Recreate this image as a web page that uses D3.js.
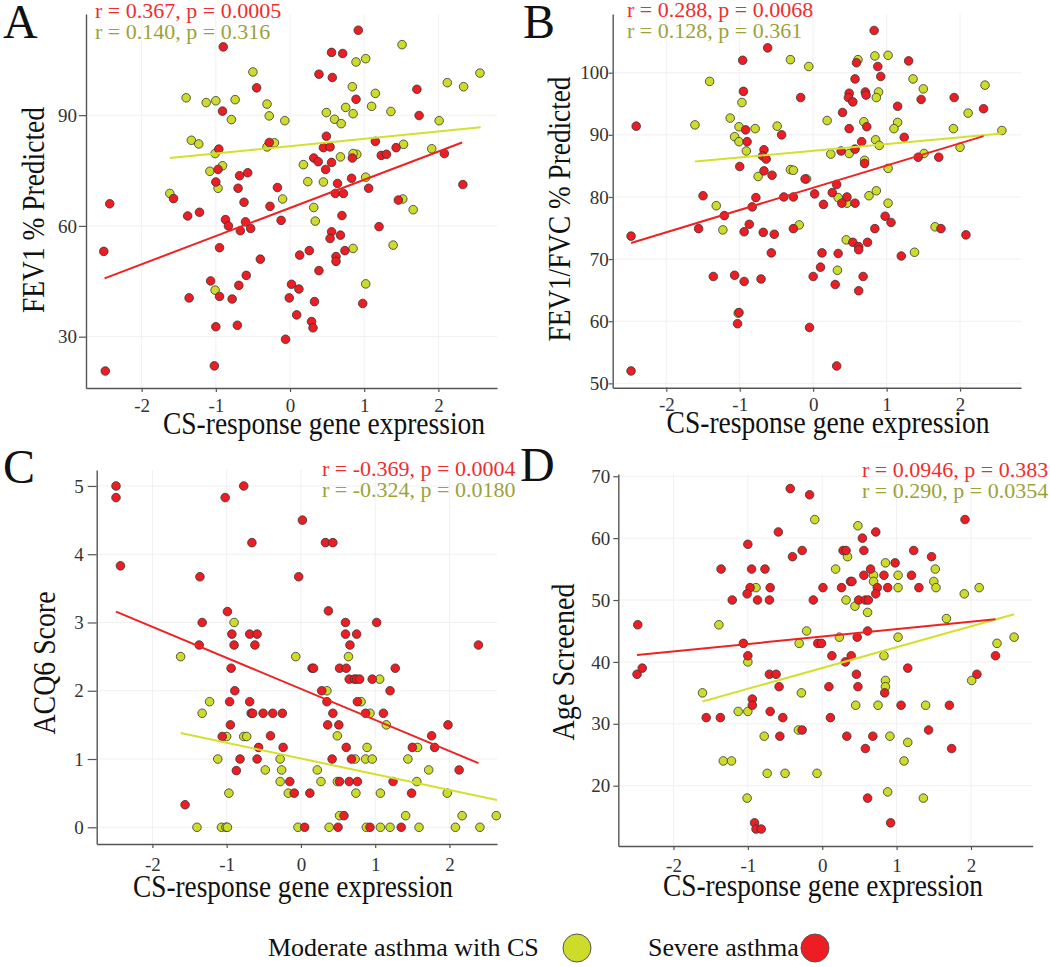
<!DOCTYPE html>
<html>
<head>
<meta charset="utf-8">
<script src="https://cdn.jsdelivr.net/npm/d3@7"></script>
<style>
  body { margin: 0; background: #fff; }
  svg { display: block; }
</style>
</head>
<body>
<script>
// ---- data: [CS-response gene expression, value] ----
var xTicks = [-2, -1, 0, 1, 2];

// A: FEV1 % Predicted
var aSevere = [[-0.90,108.5],[-0.45,97.4],[-0.91,91.1],[-0.96,80.8],[-0.97,75.3],[-0.68,73.6],[-0.57,74.4],[-1.00,71.9],[-0.70,70.2],[-0.62,66.4],[-1.57,67.4],[-2.43,66.0],[-1.38,62.7],[-1.22,63.7],[-0.87,61.7],[-0.83,60.0],[-0.60,61.1],[-0.53,59.3],[-0.67,58.7],[-2.51,53.1],[-0.95,54.1],[-0.40,51.0],[-1.07,45.1],[-0.59,46.6],[-0.69,43.9],[-1.36,40.5],[-0.95,40.9],[-0.78,40.2],[-1.00,32.7],[-0.71,33.1],[-2.49,20.7],[-1.02,22.1],
  [0.92,113.0],[0.56,107.0],[0.71,106.7],[0.39,101.1],[0.57,100.2],[1.71,97.0],[0.89,94.3],[1.74,89.9],[0.49,84.3],[1.15,82.9],[-0.28,82.6],[0.45,81.2],[0.54,81.4],[1.43,81.2],[1.23,79.1],[1.30,79.4],[2.08,79.6],[0.32,78.4],[0.38,77.4],[0.56,77.2],[0.84,78.4],[0.48,75.3],[0.83,72.9],[-0.17,70.4],[0.64,71.5],[1.06,70.2],[0.61,68.8],[0.72,68.8],[2.33,71.2],[-0.27,65.3],[1.46,67.0],[0.70,62.8],[-0.12,61.5],[1.20,59.8],[0.56,58.4],[0.68,57.5],[0.54,56.6],[0.74,53.3],[0.26,53.3],[0.13,52.1],[0.62,51.7],[0.62,50.4],[0.39,47.9],[0.02,44.2],[0.12,42.9],[-0.01,40.5],[0.33,39.5],[0.98,39.0],[0.09,35.9],[0.29,34.1],[0.31,32.4],[-0.06,29.3]];
var aModerate = [[-0.50,101.7],[-1.40,94.7],[-1.13,93.4],[-1.00,93.9],[-0.74,94.2],[-0.79,88.8],[-1.33,83.2],[-1.23,82.2],[-1.01,79.6],[-0.91,76.3],[-1.08,74.8],[-0.97,70.2],[-1.62,68.8],[-1.01,42.6],
  [1.51,109.1],[0.89,104.4],[1.02,105.3],[2.56,101.4],[2.12,98.8],[2.34,97.7],[0.84,97.7],[1.15,95.9],[0.75,92.1],[1.10,92.4],[-0.31,93.0],[-0.28,89.8],[0.49,90.7],[0.60,88.9],[0.85,90.4],[0.69,87.7],[1.36,91.0],[-0.07,88.5],[2.01,88.5],[-0.31,81.4],[-0.21,82.5],[1.53,82.1],[1.91,80.9],[0.90,79.4],[0.85,79.6],[0.68,78.7],[0.18,76.6],[1.02,73.2],[0.24,72.0],[0.45,71.9],[-0.10,67.3],[1.52,67.3],[1.66,64.4],[0.32,65.0],[0.34,61.3],[1.39,54.8],[0.85,53.9],[1.02,44.3]];
var aFitSevere = [[-2.50,45.8],[2.32,82.6]];
var aFitModerate = [[-1.62,78.4],[2.57,86.7]];
var aYTicks = [30, 60, 90];
var aStats = ["r = 0.367, p = 0.0005", "r = 0.140, p = 0.316"];

// B: FEV1/FVC % Predicted
var bSevere = [[-0.62,104.0],[-0.96,102.0],[-0.95,97.0],[-2.41,91.4],[-0.92,90.8],[-0.90,88.9],[-0.67,87.6],[-0.69,86.6],[-0.64,86.1],[-1.00,84.9],[-0.67,84.2],[-0.56,83.5],[-0.78,79.9],[-0.83,78.4],[-1.50,80.2],[-1.21,77.0],[-1.56,74.9],[-2.48,73.7],[-0.94,74.4],[-0.87,75.6],[-0.68,74.3],[-0.53,74.0],[-0.57,71.0],[-1.07,67.4],[-1.36,67.2],[-0.94,66.4],[-0.71,66.8],[-1.01,61.4],[-1.03,59.6],[-2.48,52.0],
  [0.83,106.8],[1.30,101.9],[0.59,101.6],[0.88,101.0],[0.57,99.0],[0.92,99.4],[-0.17,96.0],[0.49,96.7],[0.48,96.0],[0.54,95.3],[0.71,96.9],[0.72,96.4],[1.47,95.7],[1.92,96.0],[2.32,94.2],[1.15,94.6],[0.40,93.6],[0.49,91.0],[0.73,91.3],[-0.43,90.0],[1.24,89.6],[0.66,88.9],[0.57,87.7],[0.38,87.4],[0.70,85.4],[1.43,86.4],[1.71,86.4],[-0.11,82.9],[0.32,82.0],[0.02,80.5],[0.26,80.7],[-0.40,80.0],[-0.27,80.0],[0.46,80.0],[0.14,78.8],[0.39,79.0],[0.57,79.0],[0.98,76.9],[1.06,75.9],[-0.27,74.9],[0.84,74.9],[1.74,74.9],[2.08,73.9],[0.54,72.7],[0.62,72.0],[0.62,71.5],[0.74,72.7],[0.12,71.0],[0.34,70.9],[1.20,70.5],[0.10,68.7],[0.00,67.2],[0.30,65.9],[0.68,67.2],[0.62,64.9],[-0.05,59.0],[0.32,52.8]];
var bModerate = [[-1.41,98.6],[-0.97,95.2],[-1.61,91.6],[-1.13,92.7],[-1.01,91.3],[-0.79,91.0],[-1.07,89.7],[-1.01,88.9],[-0.91,87.4],[-0.75,83.3],[-1.32,78.6],[-1.23,74.7],[-1.02,61.3],
  [-0.31,102.1],[-0.06,101.0],[0.61,102.1],[0.84,102.7],[1.02,102.8],[1.36,99.0],[1.50,97.4],[0.89,96.9],[0.86,96.0],[-0.49,91.4],[0.19,92.3],[0.69,92.1],[1.15,92.0],[1.10,91.0],[1.91,91.0],[2.11,93.5],[2.34,98.0],[2.57,90.7],[0.85,89.2],[0.90,88.3],[2.00,88.0],[0.24,86.9],[0.49,87.0],[1.51,87.0],[0.70,85.9],[-0.31,84.4],[-0.27,84.3],[-0.09,82.9],[1.02,84.6],[0.86,81.0],[0.76,80.2],[0.34,79.9],[0.46,79.0],[1.02,79.0],[-0.19,75.5],[1.66,75.2],[0.45,73.1],[1.38,71.1],[0.33,68.2]];
var bFitSevere = [[-2.48,72.6],[2.32,89.8]];
var bFitModerate = [[-1.61,85.7],[2.57,90.2]];
var bYTicks = [50, 60, 70, 80, 90, 100];
var bStats = ["r = 0.288, p = 0.0068", "r = 0.128, p = 0.361"];

// C: ACQ6 Score
var cSevere = [[-2.49,5.0],[-2.49,4.83],[-0.77,5.0],[-1.02,4.83],[-0.66,4.17],[-2.43,3.83],[-1.36,3.67],[-0.99,3.16],[-1.33,3.0],[-0.93,2.83],[-0.69,2.83],[-0.59,2.83],[-1.37,2.67],[-0.90,2.67],[-0.62,2.67],[-0.94,2.33],[-0.89,2.0],[-0.96,1.84],[-0.69,1.84],[-0.67,1.67],[-0.65,1.67],[-0.95,1.50],[-1.06,1.33],[-0.57,1.17],[-0.82,1.0],[-0.59,1.0],[-0.87,0.83],[-1.56,0.33],
  [0.02,4.50],[0.33,4.17],[0.43,4.17],[-0.03,3.67],[0.37,3.17],[0.60,3.0],[1.02,3.0],[0.60,2.83],[0.75,2.83],[0.66,2.67],[2.39,2.67],[0.15,2.33],[0.17,2.33],[0.52,2.33],[0.61,2.33],[1.27,2.33],[0.65,2.17],[0.72,2.17],[0.75,2.17],[0.79,2.17],[0.96,2.17],[0.28,2.0],[1.20,2.0],[0.35,1.84],[0.76,1.84],[-0.51,1.67],[-0.38,1.67],[-0.25,1.67],[0.43,1.67],[0.87,1.67],[1.11,1.67],[0.36,1.50],[0.51,1.50],[1.98,1.50],[-0.41,1.34],[1.76,1.34],[-0.24,1.17],[0.61,1.17],[1.50,1.17],[1.80,1.17],[0.42,1.0],[0.68,1.0],[2.13,0.84],[-0.15,0.67],[0.52,0.67],[0.65,0.67],[0.76,0.67],[1.24,0.67],[-0.09,0.50],[0.12,0.50],[1.49,0.50],[0.58,0.17],[0.05,0.0],[0.50,0.0],[0.93,0.0],[1.35,0.0]];
var cModerate = [[-0.90,3.0],[-1.62,2.5],[-1.23,1.84],[-1.33,1.67],[-1.00,1.33],[-0.77,1.33],[-0.73,1.33],[-1.12,1.0],[-0.97,0.50],[-1.40,0.0],[-1.07,0.0],[-1.01,0.0],[-0.99,0.0],
  [-0.07,2.5],[0.64,2.5],[0.35,2.0],[1.06,2.17],[0.81,1.84],[0.93,1.67],[1.15,1.50],[0.49,1.34],[0.89,1.17],[1.57,1.17],[-0.28,1.0],[0.73,1.0],[0.87,1.0],[0.96,1.0],[1.44,1.0],[-0.48,0.84],[-0.26,0.84],[0.22,0.84],[1.72,0.84],[-0.28,0.67],[0.27,0.67],[0.49,0.67],[1.56,0.67],[-0.17,0.50],[0.74,0.50],[1.07,0.50],[1.97,0.50],[0.52,0.17],[1.41,0.17],[2.17,0.17],[2.63,0.17],[-0.04,0.0],[0.38,0.0],[0.88,0.0],[1.07,0.0],[1.20,0.0],[1.59,0.0],[2.08,0.0],[2.41,0.0]];
var cFitSevere = [[-2.49,3.16],[2.39,0.94]];
var cFitModerate = [[-1.62,1.38],[2.64,0.40]];
var cYTicks = [0, 1, 2, 3, 4, 5];
var cStats = ["r = -0.369, p = 0.0004", "r = -0.324, p = 0.0180"];

// D: Age Screened
var dSevere = [[-1.00,59.0],[-1.36,55.0],[-0.95,55.0],[-0.77,55.0],[-0.97,52.0],[-0.70,52.0],[-1.01,51.0],[-1.21,50.0],[-0.87,50.0],[-0.71,50.0],[-2.48,46.0],[-1.06,43.0],[-1.00,41.0],[-0.71,38.0],[-2.49,38.0],[-2.42,39.0],[-0.94,34.0],[-0.94,33.0],[-0.70,32.0],[-1.56,31.0],[-1.37,31.0],[-0.91,14.0],[-0.89,13.0],[-0.82,13.0],
  [-0.43,68.0],[-0.17,67.0],[1.92,63.0],[-0.59,61.0],[0.72,61.0],[0.54,60.0],[-0.27,58.0],[0.28,58.0],[0.32,58.0],[0.56,58.0],[1.23,58.0],[-0.40,57.0],[1.47,57.0],[0.98,56.0],[0.65,55.0],[0.56,54.0],[0.83,54.0],[1.20,54.0],[0.01,52.0],[0.26,52.0],[0.38,53.0],[0.40,53.0],[0.74,52.0],[0.88,52.0],[1.30,52.0],[0.72,51.0],[-0.12,50.0],[0.49,50.0],[0.58,50.0],[0.62,50.0],[0.61,45.0],[0.47,44.0],[-0.06,43.0],[-0.01,43.0],[0.13,41.0],[0.39,41.0],[2.33,41.0],[0.31,40.0],[1.15,39.0],[2.08,38.0],[-0.62,38.0],[0.46,38.0],[-0.58,36.0],[0.09,36.0],[0.48,36.0],[0.84,35.0],[1.06,33.0],[1.71,33.0],[-0.53,31.0],[0.11,31.0],[-0.57,28.0],[-0.27,29.0],[0.33,28.0],[0.68,28.0],[1.43,29.0],[0.58,26.0],[1.74,26.0],[0.61,18.0],[0.92,14.0]];
var dModerate = [[-0.89,52.0],[-1.39,46.0],[-1.00,40.0],[-1.61,35.0],[-1.13,32.0],[-1.00,32.0],[-0.78,28.0],[-1.33,24.0],[-1.22,24.0],[-0.74,22.0],[-1.01,18.0],
  [-0.10,63.0],[0.48,62.0],[0.34,57.0],[0.18,55.0],[0.85,56.0],[1.52,55.0],[0.69,54.0],[0.69,53.0],[1.02,54.0],[1.50,53.0],[1.02,52.0],[1.53,52.0],[2.11,52.0],[1.91,51.0],[0.32,50.0],[0.44,49.0],[0.61,48.0],[1.67,47.0],[-0.21,45.0],[0.23,44.0],[1.02,44.0],[2.58,44.0],[-0.31,43.0],[2.35,43.0],[0.83,41.0],[0.85,37.0],[0.85,36.0],[2.01,37.0],[-0.28,35.0],[0.45,33.0],[0.75,33.0],[1.39,33.0],[-0.32,29.0],[0.91,28.0],[1.15,27.0],[1.10,24.0],[-0.50,22.0],[-0.07,22.0],[0.88,19.0],[1.36,18.0]];
var dFitSevere = [[-2.49,41.1],[2.33,46.9]];
var dFitModerate = [[-1.61,33.6],[2.58,47.7]];
var dYTicks = [20, 30, 40, 50, 60, 70];
var dStats = ["r = 0.0946, p = 0.383", "r = 0.290, p = 0.0354"];

var xTitle = "CS-response gene expression";
var legendLabels = ["Moderate asthma with CS", "Severe asthma"];

// ---- look ----
var FONT = "'Liberation Serif', 'Times New Roman', serif";
var RED = "#ee1d23", YEL = "#cddc2a";
var RED_LINE = "#ef2222", YEL_LINE = "#d3e02c";
var RED_TXT = "#ee2e2e", OLIVE_TXT = "#9ca23a";

// panel placement (pixels)
var panels = [
  {letter: "A", lx: 3, ly: 38, severe: aSevere, moderate: aModerate, fitS: aFitSevere, fitM: aFitModerate,
   yTicks: aYTicks, yTitle: "FEV1 % Predicted", stats: aStats,
   xDom: [-2.75, 2.79], yDom: [16.1, 117.4], left: 86, right: 497, top: 14, bottom: 388,
   tick: 7, yGap: 9, xLab: 24, sx: 95, sy: 18,
   xtX: 324, xtY: 434, xtLen: 322, ytX: 44, ytY: 210, ytLen: 206},
  {letter: "B", lx: 523, ly: 38, severe: bSevere, moderate: bModerate, fitS: bFitSevere, fitM: bFitModerate,
   yTicks: bYTicks, yTitle: "FEV1/FVC % Predicted", stats: bStats,
   xDom: [-2.73, 2.83], yDom: [49.3, 109.45], left: 612.7, right: 1021, top: 14, bottom: 387.7,
   tick: 4, yGap: 4, xLab: 23, sx: 627, sy: 17,
   xtX: 828, xtY: 433, xtLen: 323, ytX: 570, ytY: 209, ytLen: 265},
  {letter: "C", lx: 3, ly: 483, severe: cSevere, moderate: cModerate, fitS: cFitSevere, fitM: cFitModerate,
   yTicks: cYTicks, yTitle: "ACQ6 Score", stats: cStats,
   xDom: [-2.75, 2.64], yDom: [-0.245, 5.234], left: 96.7, right: 497, top: 470, bottom: 844,
   tick: 9, yGap: 13, xLab: 27, sx: 322, sy: 476,
   xtX: 293, xtY: 897, xtLen: 320, ytX: 55, ytY: 663, ytLen: 143},
  {letter: "D", lx: 520, ly: 481, severe: dSevere, moderate: dModerate, fitS: dFitSevere, fitM: dFitModerate,
   yTicks: dYTicks, yTitle: "Age Screened", stats: dStats,
   xDom: [-2.742, 2.83], yDom: [10.26, 70.36], left: 618.3, right: 1032.7, top: 474, bottom: 846,
   tick: 5, yGap: 8, xLab: 26, sx: 862, sy: 477,
   xtX: 823, xtY: 896, xtLen: 320, ytX: 574, ytY: 662, ytLen: 157}
];

var svg = d3.select("body").append("svg")
    .attr("width", 1050)
    .attr("height", 967)
    .style("font-family", FONT);

var line = d3.line();
var plainNum = function(d) { return String(d); };

panels.forEach(function(p) {
  var x = d3.scaleLinear().domain(p.xDom).range([p.left, p.right]);
  var y = d3.scaleLinear().domain(p.yDom).range([p.bottom, p.top]);
  var g = svg.append("g");

  // grid
  g.selectAll(".gx").data(xTicks).enter().append("line")
      .attr("x1", function(d) { return x(d); })
      .attr("x2", function(d) { return x(d); })
      .attr("y1", p.top).attr("y2", p.bottom)
      .style("stroke", "#f0f0f0").style("stroke-width", 1);
  g.selectAll(".gy").data(p.yTicks).enter().append("line")
      .attr("x1", p.left).attr("x2", p.right)
      .attr("y1", function(d) { return y(d); })
      .attr("y2", function(d) { return y(d); })
      .style("stroke", "#f0f0f0").style("stroke-width", 1);

  // axes
  var ax = g.append("g")
      .attr("transform", "translate(0," + p.bottom + ")")
      .call(d3.axisBottom(x).tickValues(xTicks).tickFormat(plainNum).tickSize(4).tickSizeOuter(0));
  ax.selectAll("text").attr("y", p.xLab).attr("dy", null);

  var ay = g.append("g")
      .attr("transform", "translate(" + p.left + ",0)")
      .call(d3.axisLeft(y).tickValues(p.yTicks).tickFormat(plainNum).tickSize(p.tick).tickSizeOuter(0));
  ay.selectAll("text").attr("x", -p.yGap);

  g.selectAll(".domain").style("stroke", "#555").style("stroke-width", 1.4);
  g.selectAll(".tick line").style("stroke", "#555").style("stroke-width", 1.2);
  g.selectAll(".tick text")
      .style("font-family", FONT).style("font-size", "19px").style("fill", "#333");

  // points: moderate first, severe on top
  g.selectAll(".pm").data(p.moderate).enter().append("circle")
      .attr("cx", function(d) { return x(d[0]); })
      .attr("cy", function(d) { return y(d[1]); })
      .attr("r", 4.3)
      .style("fill", YEL).style("stroke", "#333").style("stroke-width", 0.8);
  g.selectAll(".ps").data(p.severe).enter().append("circle")
      .attr("cx", function(d) { return x(d[0]); })
      .attr("cy", function(d) { return y(d[1]); })
      .attr("r", 4.3)
      .style("fill", RED).style("stroke", "#333").style("stroke-width", 0.8);

  // fitted lines
  line.x(function(d) { return x(d[0]); }).y(function(d) { return y(d[1]); });
  g.append("path").datum(p.fitM).attr("d", line)
      .style("fill", "none").style("stroke", YEL_LINE).style("stroke-width", 2);
  g.append("path").datum(p.fitS).attr("d", line)
      .style("fill", "none").style("stroke", RED_LINE).style("stroke-width", 2);

  // correlation text
  g.append("text").attr("x", p.sx).attr("y", p.sy)
      .style("font-size", "22px").style("fill", RED_TXT).text(p.stats[0]);
  g.append("text").attr("x", p.sx).attr("y", p.sy + 21)
      .style("font-size", "22px").style("fill", OLIVE_TXT).text(p.stats[1]);

  // axis titles
  g.append("text")
      .attr("x", p.xtX).attr("y", p.xtY)
      .attr("text-anchor", "middle")
      .attr("textLength", p.xtLen).attr("lengthAdjust", "spacingAndGlyphs")
      .style("font-size", "31px").style("fill", "#111")
      .text(xTitle);
  g.append("text")
      .attr("transform", "translate(" + p.ytX + "," + p.ytY + ") rotate(-90)")
      .attr("text-anchor", "middle")
      .attr("textLength", p.ytLen).attr("lengthAdjust", "spacingAndGlyphs")
      .style("font-size", "31px").style("fill", "#111")
      .text(p.yTitle);

  // panel letter
  g.append("text").attr("x", p.lx).attr("y", p.ly)
      .style("font-size", "48px").style("fill", "#111").text(p.letter);
});

// legend
var legend = svg.append("g").style("font-size", "26px").style("fill", "#111");
legend.append("text").attr("x", 268).attr("y", 956).text(legendLabels[0]);
legend.append("circle").attr("cx", 577).attr("cy", 948).attr("r", 14)
    .style("fill", YEL).style("stroke", "#555").style("stroke-width", 1);
legend.append("text").attr("x", 648).attr("y", 956).text(legendLabels[1]);
legend.append("circle").attr("cx", 815).attr("cy", 948).attr("r", 14)
    .style("fill", RED).style("stroke", "#555").style("stroke-width", 1);
</script>
</body>
</html>
